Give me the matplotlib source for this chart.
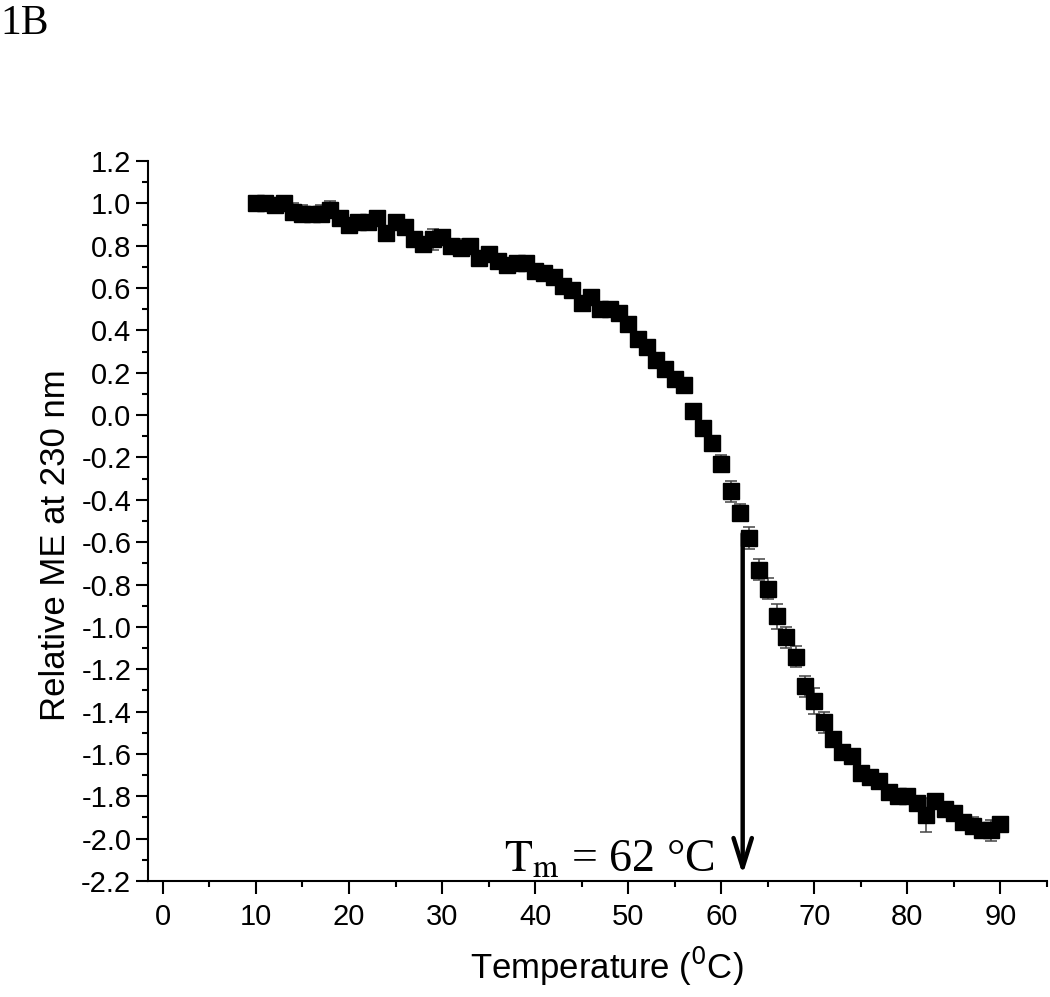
import matplotlib
matplotlib.use('Agg')
import matplotlib.pyplot as plt
from matplotlib.ticker import MultipleLocator, FormatStrFormatter

# --- data ---
temperature = list(range(10, 91))
rel_me = [
    1.00, 1.00, 0.99, 1.00, 0.96, 0.95, 0.95, 0.95, 0.97, 0.93,
    0.90, 0.91, 0.91, 0.93, 0.86, 0.91, 0.89, 0.83, 0.81, 0.83,
    0.84, 0.80, 0.79, 0.80, 0.74, 0.76, 0.73, 0.71, 0.72, 0.72,
    0.68, 0.67, 0.65, 0.61, 0.59, 0.53, 0.56, 0.50, 0.50, 0.48,
    0.43, 0.36, 0.32, 0.26, 0.22, 0.17, 0.14, 0.02, -0.06, -0.13,
    -0.23, -0.36, -0.46, -0.58, -0.73, -0.82, -0.95, -1.05, -1.14, -1.28,
    -1.35, -1.45, -1.53, -1.59, -1.61, -1.69, -1.71, -1.73, -1.78, -1.80,
    -1.80, -1.83, -1.89, -1.82, -1.86, -1.88, -1.92, -1.94, -1.96, -1.96,
    -1.93,
]
rel_me_err = [
    0.02, 0.02, 0.02, 0.02, 0.04, 0.04, 0.03, 0.04, 0.04, 0.03,
    0.03, 0.02, 0.02, 0.03, 0.03, 0.03, 0.03, 0.03, 0.03, 0.05,
    0.03, 0.03, 0.04, 0.03, 0.02, 0.02, 0.02, 0.02, 0.02, 0.02,
    0.02, 0.02, 0.02, 0.02, 0.03, 0.03, 0.03, 0.02, 0.02, 0.03,
    0.02, 0.02, 0.02, 0.02, 0.02, 0.02, 0.02, 0.01, 0.02, 0.03,
    0.04, 0.05, 0.04, 0.05, 0.05, 0.05, 0.06, 0.05, 0.05, 0.05,
    0.06, 0.05, 0.03, 0.03, 0.03, 0.03, 0.03, 0.03, 0.03, 0.03,
    0.03, 0.03, 0.08, 0.03, 0.03, 0.03, 0.03, 0.04, 0.03, 0.05,
    0.03,
]
TM = 62.3
TM_TOP = -0.56

plt.rcParams['font.family'] = ['Liberation Sans', 'DejaVu Sans']

fig = plt.figure(figsize=(10.5, 9.97), dpi=100)
ax = fig.add_axes([148 / 1050, 1 - 881 / 997, 899 / 1050, 720 / 997])

ax.errorbar(temperature, rel_me, yerr=rel_me_err, fmt='none', ecolor='#444444',
            elinewidth=1.1, capsize=4.5, capthick=1.1, zorder=2)
ax.plot(temperature, rel_me, 's', color='black', markersize=11, zorder=3)

# Tm marker arrow
ax.annotate('', xy=(TM, -2.17), xytext=(TM, TM_TOP),
            arrowprops=dict(arrowstyle='->,head_length=0.7,head_width=0.22',
                            lw=3.2, color='black', mutation_scale=30,
                            shrinkA=0, shrinkB=0))
ax.text(36.6, -2.158, r'$\mathrm{T_m}$ = 62 °C', family='Liberation Serif',
        math_fontfamily='stix', fontsize=33, va='baseline', ha='left')

ax.set_xlim(-1.6, 95)
ax.set_ylim(-2.2, 1.2)
ax.xaxis.set_major_locator(MultipleLocator(10))
ax.xaxis.set_minor_locator(MultipleLocator(5))
ax.yaxis.set_major_locator(MultipleLocator(0.2))
ax.yaxis.set_minor_locator(MultipleLocator(0.1))
ax.yaxis.set_major_formatter(FormatStrFormatter('%.1f'))

for side in ['top', 'right']:
    ax.spines[side].set_visible(False)
for side in ['left', 'bottom']:
    ax.spines[side].set_linewidth(1.5)

ax.tick_params(which='major', direction='out', length=9, width=1.5, labelsize=21, pad=3)
ax.tick_params(which='minor', direction='out', length=4.5, width=1.5)
ax.tick_params(axis='x', which='major', pad=7)

ax.set_xlabel('Temperature ($^{0}$C)', fontsize=25, math_fontfamily='dejavusans')
ax.set_ylabel('Relative ME at 230 nm', fontsize=25)
ax.xaxis.set_label_coords(0.51, -0.088)
ax.yaxis.set_label_coords(-0.085, 0.467)

fig.text(0.0, 0.995, '1B', family='Liberation Serif', fontsize=30, va='top', ha='left')

fig.savefig('out.png', dpi=100)
